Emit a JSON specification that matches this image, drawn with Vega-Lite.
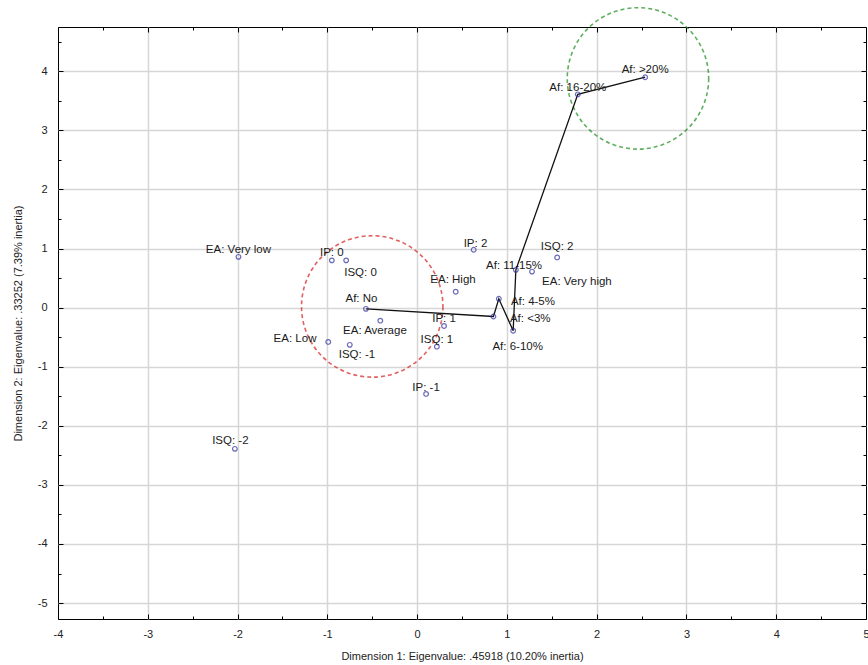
{
  "$schema": "https://vega.github.io/schema/vega-lite/v6.json",
  "width": 808,
  "height": 592,
  "autosize": "none",
  "padding": {"left": 58, "top": 27, "right": 2, "bottom": 46},
  "background": "white",
  "config": {
    "view": {"stroke": "black", "strokeWidth": 1},
    "font": "Liberation Sans",
    "axis": {
      "labelFont": "Liberation Sans",
      "labelFontSize": 11,
      "labelColor": "#222",
      "titleFont": "Liberation Sans",
      "titleFontSize": 11,
      "titleFontWeight": "normal",
      "titleColor": "#222",
      "domain": false,
      "tickColor": "#000",
      "labelFlush": false,
      "labelOverlap": false
    }
  },
  "datasets": {
    "pts": [
      {"label": "EA: Very low", "x": -1.99, "y": 0.86, "lx": -1.99, "ly": 0.98, "step": null},
      {"label": "IP: 0", "x": -0.95, "y": 0.80, "lx": -0.95, "ly": 0.92, "step": null},
      {"label": "ISQ: 0", "x": -0.79, "y": 0.80, "lx": -0.63, "ly": 0.58, "step": null},
      {"label": "Af: No", "x": -0.57, "y": -0.02, "lx": -0.62, "ly": 0.15, "step": 1},
      {"label": "EA: Average", "x": -0.41, "y": -0.22, "lx": -0.47, "ly": -0.39, "step": null},
      {"label": "EA: Low", "x": -0.99, "y": -0.58, "lx": -1.36, "ly": -0.53, "step": null},
      {"label": "ISQ: -1", "x": -0.75, "y": -0.63, "lx": -0.67, "ly": -0.80, "step": null},
      {"label": "IP: 1", "x": 0.30, "y": -0.31, "lx": 0.30, "ly": -0.20, "step": null},
      {"label": "ISQ: 1", "x": 0.22, "y": -0.66, "lx": 0.22, "ly": -0.54, "step": null},
      {"label": "IP: -1", "x": 0.10, "y": -1.46, "lx": 0.10, "ly": -1.36, "step": null},
      {"label": "EA: High", "x": 0.43, "y": 0.27, "lx": 0.40, "ly": 0.47, "step": null},
      {"label": "IP: 2", "x": 0.63, "y": 0.98, "lx": 0.65, "ly": 1.08, "step": null},
      {"label": "Af: 11-15%", "x": 1.10, "y": 0.64, "lx": 1.08, "ly": 0.71, "step": 5},
      {"label": "EA: Very high", "x": 1.28, "y": 0.61, "lx": 1.78, "ly": 0.44, "step": null},
      {"label": "ISQ: 2", "x": 1.56, "y": 0.85, "lx": 1.56, "ly": 1.02, "step": null},
      {"label": "Af: 4-5%", "x": 0.91, "y": 0.15, "lx": 1.29, "ly": 0.10, "step": 3},
      {"label": "Af: <3%", "x": 0.85, "y": -0.15, "lx": 1.26, "ly": -0.19, "step": 2},
      {"label": "Af: 6-10%", "x": 1.07, "y": -0.39, "lx": 1.12, "ly": -0.66, "step": 4},
      {"label": "Af: 16-20%", "x": 1.79, "y": 3.61, "lx": 1.79, "ly": 3.71, "step": 6},
      {"label": "Af: >20%", "x": 2.54, "y": 3.90, "lx": 2.54, "ly": 4.02, "step": 7},
      {"label": "ISQ: -2", "x": -2.03, "y": -2.39, "lx": -2.08, "ly": -2.25, "step": null}
    ],
    "circles": [
      {"cluster": "low", "cx": -0.50, "cy": 0.02},
      {"cluster": "high", "cx": 2.46, "cy": 3.88}
    ]
  },
  "resolve": {"axis": {"x": "independent", "y": "independent"}},
  "layer": [
    {
      "data": {"name": "pts"},
      "mark": {"type": "point", "opacity": 0},
      "encoding": {
        "x": {
          "field": "x", "type": "quantitative",
          "scale": {"domain": [-4, 5], "nice": false, "zero": false},
          "axis": {
            "title": "Dimension 1: Eigenvalue:  .45918 (10.20% inertia)",
            "values": [-4, -3.5, -3, -2.5, -2, -1.5, -1, -0.5, 0, 0.5, 1, 1.5, 2, 2.5, 3, 3.5, 4, 4.5, 5],
            "labelExpr": "datum.value % 1 === 0 ? '' + datum.value : ''",
            "grid": true,
            "gridColor": {"condition": {"test": "datum.value % 1 !== 0 || datum.value === -4 || datum.value === 5", "value": null}, "value": "#d6d6d6"},
            "gridWidth": 1.5,
            "tickSize": {"condition": {"test": "datum.value % 1 !== 0", "value": -3}, "value": -5},
            "labelPadding": 14,
            "titlePadding": 9
          }
        },
        "y": {
          "field": "y", "type": "quantitative",
          "scale": {"domain": [-5.27, 4.75], "nice": false, "zero": false},
          "axis": {
            "title": "Dimension 2: Eigenvalue:  .33252 (7.39% inertia)",
            "values": [-5, -4.5, -4, -3.5, -3, -2.5, -2, -1.5, -1, -0.5, 0, 0.5, 1, 1.5, 2, 2.5, 3, 3.5, 4, 4.5],
            "labelExpr": "datum.value % 1 === 0 ? '' + datum.value : ''",
            "grid": true,
            "gridColor": {"condition": {"test": "datum.value % 1 !== 0", "value": null}, "value": "#d6d6d6"},
            "gridWidth": 1.5,
            "tickSize": {"condition": {"test": "datum.value % 1 !== 0", "value": -3}, "value": -5},
            "labelPadding": 16,
            "titlePadding": 14
          }
        }
      }
    },
    {
      "data": {"name": "pts"},
      "mark": {"type": "point", "opacity": 0},
      "encoding": {
        "x": {
          "field": "x", "type": "quantitative",
          "axis": {
            "orient": "top",
            "title": null,
            "labels": false,
            "grid": false,
            "values": [-4, -3.5, -3, -2.5, -2, -1.5, -1, -0.5, 0, 0.5, 1, 1.5, 2, 2.5, 3, 3.5, 4, 4.5, 5],
            "tickSize": {"condition": {"test": "datum.value % 1 !== 0", "value": -3}, "value": -5}
          }
        },
        "y": {
          "field": "y", "type": "quantitative",
          "axis": {
            "orient": "right",
            "title": null,
            "labels": false,
            "grid": false,
            "values": [-5, -4.5, -4, -3.5, -3, -2.5, -2, -1.5, -1, -0.5, 0, 0.5, 1, 1.5, 2, 2.5, 3, 3.5, 4, 4.5],
            "tickSize": {"condition": {"test": "datum.value % 1 !== 0", "value": -3}, "value": -5}
          }
        }
      }
    },
    {
      "data": {"name": "circles"},
      "mark": {"type": "point", "shape": "circle", "size": 20000, "filled": false, "strokeWidth": 1.6, "strokeDash": [4, 3]},
      "encoding": {
        "x": {"field": "cx", "type": "quantitative", "axis": null},
        "y": {"field": "cy", "type": "quantitative", "axis": null},
        "color": {"field": "cluster", "type": "nominal", "scale": {"domain": ["low", "high"], "range": ["#d81e1e", "#1e8c1e"]}, "legend": null}
      }
    },
    {
      "data": {"name": "pts"},
      "transform": [{"filter": "datum.step != null"}],
      "mark": {"type": "line", "color": "#111", "strokeWidth": 1.3},
      "encoding": {
        "x": {"field": "x", "type": "quantitative", "axis": null},
        "y": {"field": "y", "type": "quantitative", "axis": null},
        "order": {"field": "step", "type": "quantitative"}
      }
    },
    {
      "data": {"name": "pts"},
      "mark": {"type": "point", "shape": "circle", "size": 22, "filled": false, "color": "#2f2f9e", "strokeWidth": 1.2},
      "encoding": {
        "x": {"field": "x", "type": "quantitative", "axis": null},
        "y": {"field": "y", "type": "quantitative", "axis": null}
      }
    },
    {
      "data": {"name": "pts"},
      "mark": {"type": "text", "fontSize": 11.5, "color": "#1a1a1a", "align": "center", "baseline": "middle", "font": "Liberation Sans"},
      "encoding": {
        "x": {"field": "lx", "type": "quantitative", "axis": null},
        "y": {"field": "ly", "type": "quantitative", "axis": null},
        "text": {"field": "label"}
      }
    }
  ]
}
